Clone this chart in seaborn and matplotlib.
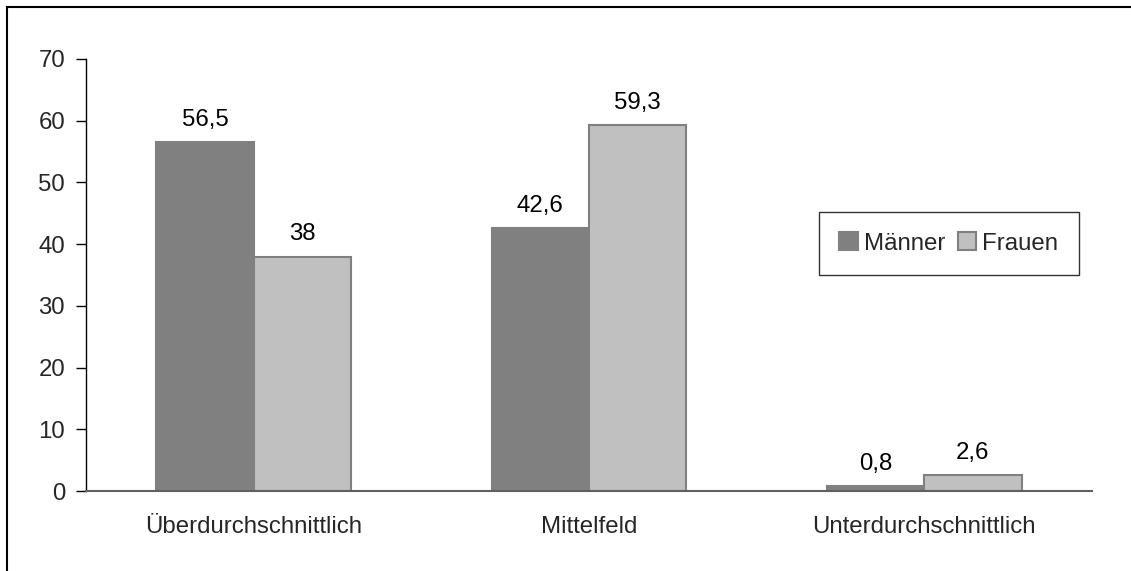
import pandas as pd
import matplotlib
matplotlib.use("Agg")
from matplotlib import pyplot as plt
from matplotlib.patches import Rectangle
import seaborn as sns

categories = ["Überdurchschnittlich", "Mittelfeld", "Unterdurchschnittlich"]
maenner = [56.5, 42.6, 0.8]
frauen = [38.0, 59.3, 2.6]
labels_maenner = ["56,5", "42,6", "0,8"]
labels_frauen = ["38", "59,3", "2,6"]
y_ticks = [0, 10, 20, 30, 40, 50, 60, 70]

df = pd.DataFrame({
    "Kategorie": categories * 2,
    "Wert": maenner + frauen,
    "Geschlecht": ["Männer"] * 3 + ["Frauen"] * 3,
})

sns.set_style("white")
plt.rcParams["font.family"] = ["Liberation Sans", "DejaVu Sans"]
fs = 17.3

fig = plt.figure(figsize=(11.31, 5.71), dpi=100)
ax = fig.add_axes([0.076, 0.140, 0.8895, 0.7567])

sns.barplot(data=df, x="Kategorie", y="Wert", hue="Geschlecht",
            palette={"Männer": "#808080", "Frauen": "#c0c0c0"},
            width=0.58, gap=0, edgecolor="#808080", linewidth=1.5,
            saturation=1, ax=ax)

for container, labs in zip(ax.containers, [labels_maenner, labels_frauen]):
    ax.bar_label(container, labels=labs, padding=8, fontsize=fs, color="black")

ax.set_xlim(-0.5, 2.5)
ax.set_ylim(0, 70)
ax.set_yticks(y_ticks)
ax.set_yticklabels([str(v) for v in y_ticks], fontsize=fs)
ax.set_xticks(range(3))
ax.set_xticklabels(categories, fontsize=fs)
ax.tick_params(axis="x", which="major", length=0, pad=18)
ax.set_xticks([-0.5, 0.5, 1.5, 2.5], minor=True)
ax.tick_params(axis="x", which="minor", length=7, width=1, color="black", direction="out")
ax.tick_params(axis="y", length=7, width=1, color="black", direction="out", left=True, pad=8)
ax.set_xlabel("")
ax.set_ylabel("")

for side in ["top", "right"]:
    ax.spines[side].set_visible(False)
ax.spines["left"].set_color("black")
ax.spines["left"].set_linewidth(1)
ax.spines["bottom"].set_color("#606060")
ax.spines["bottom"].set_linewidth(1.5)

leg = ax.legend(loc="upper left", bbox_to_anchor=(0.7286, 0.646), ncol=2,
                fontsize=fs, frameon=True, fancybox=False, shadow=False,
                handlelength=0.78, handleheight=0.78, handletextpad=0.25,
                columnspacing=0.5, borderpad=0.85, borderaxespad=0)
leg.get_frame().set_edgecolor("black")
leg.get_frame().set_linewidth(1)

fig.patches.append(Rectangle((7 / 1131, -0.1), 1.2, 1 - 7 / 571 + 0.1,
                             transform=fig.transFigure, fill=False,
                             edgecolor="black", linewidth=1.5))

fig.savefig("out.png", dpi=100)
